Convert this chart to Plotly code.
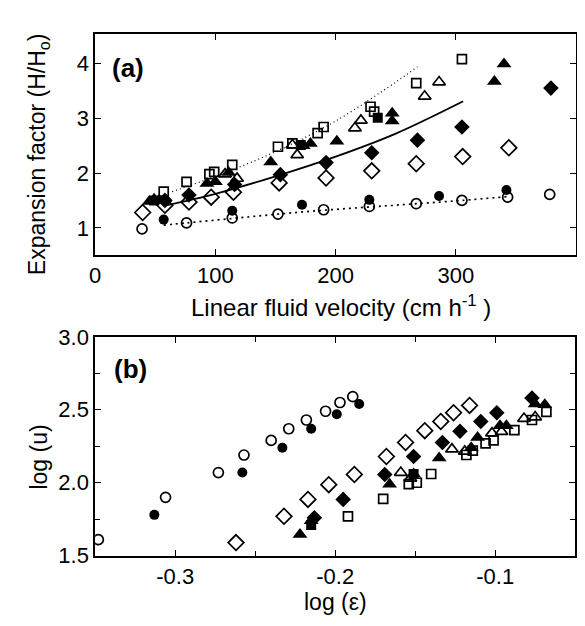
import plotly.graph_objects as go

# ---------------- Panel (a): expansion factor vs linear fluid velocity ----------------
a_open_circle_x = [39, 76, 114, 152, 190, 228, 267, 305, 343, 378]
a_open_circle_y = [0.98, 1.09, 1.18, 1.25, 1.33, 1.39, 1.44, 1.50, 1.56, 1.61]

a_filled_circle_x = [57, 114, 172, 228, 286, 342]
a_filled_circle_y = [1.15, 1.31, 1.42, 1.51, 1.58, 1.69]

a_open_diamond_x = [39.5, 58, 78, 96.5, 115, 153, 192, 230, 267, 305.6, 344]
a_open_diamond_y = [1.28, 1.41, 1.47, 1.56, 1.65, 1.82, 1.91, 2.04, 2.17, 2.30, 2.46]

a_filled_diamond_x = [58, 78, 116, 154, 192, 230, 268, 305, 379]
a_filled_diamond_y = [1.50, 1.60, 1.79, 1.97, 2.19, 2.37, 2.60, 2.84, 3.55]

a_filled_triangle_x = [45, 49, 53, 93, 100, 111, 146, 173, 179, 201, 247, 247, 332, 340]
a_filled_triangle_y = [1.48, 1.52, 1.50, 1.81, 1.84, 2.01, 2.20, 2.50, 2.54, 2.58, 2.95, 3.09, 3.67, 3.99]

a_filled_square_x = [49, 171, 235]
a_filled_square_y = [1.50, 2.51, 3.01]

a_open_triangle_x = [108, 118, 164, 168, 216, 221, 274, 286]
a_open_triangle_y = [1.98, 1.90, 2.51, 2.33, 2.82, 2.96, 3.40, 3.66]

a_open_square_x = [57, 76, 95, 99, 114, 152, 164, 185, 190, 229, 232, 267, 305]
a_open_square_y = [1.66, 1.84, 1.98, 2.02, 2.15, 2.48, 2.54, 2.73, 2.84, 3.21, 3.12, 3.64, 4.08]

# fitted curves
a_solid_x = [57, 100, 150, 200, 250, 306]
a_solid_y = [1.40, 1.62, 1.94, 2.30, 2.72, 3.31]
a_upper_dot_x = [64, 100, 150, 200, 250, 268]
a_upper_dot_y = [1.66, 1.94, 2.39, 2.95, 3.66, 3.94]
a_lower_dot_x = [57, 76, 114, 152, 190, 228, 267, 305, 343]
a_lower_dot_y = [1.05, 1.09, 1.17, 1.25, 1.32, 1.38, 1.44, 1.50, 1.57]

# ---------------- Panel (b): log(u) vs log(eps) ----------------
b_open_circle_x = [-0.348, -0.306, -0.273, -0.257, -0.240, -0.229, -0.218, -0.206, -0.197, -0.189]
b_open_circle_y = [1.61, 1.90, 2.07, 2.19, 2.29, 2.37, 2.43, 2.49, 2.55, 2.59]

b_filled_circle_x = [-0.313, -0.258, -0.233, -0.215, -0.199, -0.185]
b_filled_circle_y = [1.78, 2.07, 2.24, 2.37, 2.47, 2.54]

b_open_diamond_x = [-0.262, -0.232, -0.217, -0.204, -0.188, -0.168, -0.156, -0.144, -0.134, -0.126, -0.116]
b_open_diamond_y = [1.59, 1.77, 1.886, 1.987, 2.057, 2.18, 2.276, 2.357, 2.42, 2.48, 2.53]

b_filled_diamond_x = [-0.213, -0.195, -0.169, -0.151, -0.133, -0.122, -0.109, -0.099, -0.077]
b_filled_diamond_y = [1.76, 1.886, 2.057, 2.18, 2.276, 2.353, 2.42, 2.48, 2.58]

b_filled_triangle_x = [-0.222, -0.215, -0.166, -0.151, -0.135, -0.115, -0.111, -0.097, -0.093, -0.075, -0.069]
b_filled_triangle_y = [1.645, 1.74, 1.99, 2.06, 2.17, 2.24, 2.31, 2.39, 2.39, 2.54, 2.535]

b_filled_square_x = [-0.215, -0.151]
b_filled_square_y = [1.71, 2.06]

b_open_triangle_x = [-0.159, -0.153, -0.127, -0.119, -0.102, -0.096, -0.082, -0.075]
b_open_triangle_y = [2.07, 2.03, 2.23, 2.215, 2.34, 2.35, 2.44, 2.45]

b_open_square_x = [-0.192, -0.170, -0.154, -0.149, -0.140, -0.118, -0.114, -0.106, -0.101, -0.088, -0.077, -0.068]
b_open_square_y = [1.77, 1.89, 1.99, 2.00, 2.06, 2.19, 2.22, 2.27, 2.29, 2.36, 2.43, 2.485]

# tick labels
a_xticks = [0, 100, 200, 300, 400]
a_yticks = [1, 2, 3, 4]
b_xticks = [-0.3, -0.2, -0.1]
b_xticktext = ["-0.3", "-0.2", "-0.1"]
b_yticks = [1.5, 2.0, 2.5, 3.0]
b_yticktext = ["1.5", "2.0", "2.5", "3.0"]

W, H = 585, 626
FONT = "Liberation Sans, Arial, sans-serif"

fig = go.Figure()

def pts(x, y, symbol, size, axes, open_=False):
    xa, ya = axes
    if open_:
        marker = dict(symbol=symbol + "-open", size=size, color="black", line=dict(width=1.7, color="black"))
    else:
        marker = dict(symbol=symbol, size=size, color="black", line=dict(width=0))
    fig.add_trace(go.Scatter(x=x, y=y, mode="markers", marker=marker, xaxis=xa, yaxis=ya,
                             showlegend=False, hoverinfo="skip"))

def line(x, y, dash, width, axes):
    xa, ya = axes
    fig.add_trace(go.Scatter(x=x, y=y, mode="lines", line=dict(color="black", width=width, dash=dash, shape="spline"),
                             xaxis=xa, yaxis=ya, showlegend=False, hoverinfo="skip"))

A = ("x", "y")
B = ("x2", "y2")

line(a_upper_dot_x, a_upper_dot_y, "1px 3px", 1.2, A)
line(a_lower_dot_x, a_lower_dot_y, "2px 4px", 1.7, A)
line(a_solid_x, a_solid_y, "solid", 1.9, A)

pts(a_open_circle_x, a_open_circle_y, "circle", 10, A, True)
pts(a_filled_circle_x, a_filled_circle_y, "circle", 10, A)
pts(a_open_diamond_x, a_open_diamond_y, "diamond", 12, A, True)
pts(a_filled_diamond_x, a_filled_diamond_y, "diamond", 12, A)
pts(a_filled_triangle_x, a_filled_triangle_y, "triangle-up", 13, A)
pts(a_filled_square_x, a_filled_square_y, "square", 10, A)
pts(a_open_triangle_x, a_open_triangle_y, "triangle-up", 11, A, True)
pts(a_open_square_x, a_open_square_y, "square", 9, A, True)

pts(b_open_circle_x, b_open_circle_y, "circle", 10, B, True)
pts(b_filled_circle_x, b_filled_circle_y, "circle", 10, B)
pts(b_open_diamond_x, b_open_diamond_y, "diamond", 12, B, True)
pts(b_filled_diamond_x, b_filled_diamond_y, "diamond", 12, B)
pts(b_filled_triangle_x, b_filled_triangle_y, "triangle-up", 13, B)
pts(b_filled_square_x, b_filled_square_y, "square", 10, B)
pts(b_open_triangle_x, b_open_triangle_y, "triangle-up", 11, B, True)
pts(b_open_square_x, b_open_square_y, "square", 9, B, True)

axis_common = dict(showgrid=False, zeroline=False, showline=True, linecolor="black", linewidth=1.6,
                   mirror="ticks", ticks="inside", ticklen=6, tickwidth=1.4, tickcolor="black",
                   tickfont=dict(family=FONT, size=22, color="black"))

fig.update_layout(
    width=W, height=H, margin=dict(l=0, r=0, t=0, b=0),
    paper_bgcolor="white", plot_bgcolor="white",
    xaxis=dict(axis_common, domain=[82 / W, 568 / W], range=[0, 400], tickvals=a_xticks, anchor="y"),
    yaxis=dict(axis_common, domain=[1 - 245 / H, 1 - 15 / H], range=[0.5, 4.53], tickvals=a_yticks, anchor="x"),
    xaxis2=dict(axis_common, domain=[82 / W, 567 / W], range=[-0.35, -0.05], tickvals=b_xticks,
                ticktext=b_xticktext, anchor="y2",
                minor=dict(tickvals=[-0.25, -0.15], ticks="inside", ticklen=5, tickcolor="black", tickwidth=1.4)),
    yaxis2=dict(axis_common, domain=[1 - 558 / H, 1 - 330 / H], range=[1.5, 3.0], tickvals=b_yticks,
                ticktext=b_yticktext, anchor="x2",
                minor=dict(tickvals=[1.75, 2.25, 2.75], ticks="inside", ticklen=5, tickcolor="black", tickwidth=1.4)),
)

def ann(text, px, py, size, angle=0, bold=False):
    fig.add_annotation(text=("<b>%s</b>" % text) if bold else text, x=px / W, y=1 - py / H,
                       xref="paper", yref="paper", showarrow=False, textangle=angle,
                       font=dict(family=FONT, size=size, color="black"), xanchor="center", yanchor="middle")

ann("(a)", 115, 50, 26, bold=True)
ann("(b)", 118, 363, 26, bold=True)
ann("Linear fluid velocity (cm h<sup>-1</sup> )", 330, 298, 24)
ann("Expansion factor (H/H<sub>o</sub>)", 25, 140, 23, angle=-90)
ann("log (u)", 25, 455, 23, angle=-90)
ann("log (ε)", 325, 606, 23)

fig.write_html("out.html")
